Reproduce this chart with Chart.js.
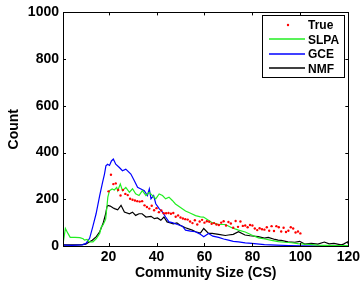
<!DOCTYPE html>
<html lang="en">
<head>
    <meta charset="UTF-8">
    <title>Community Size Distribution</title>
    <script src="https://cdn.jsdelivr.net/npm/chart.js"></script>
    <style>
        html, body { margin: 0; padding: 0; background: #fff; }
        #chart { display: block; }
    </style>
</head>
<body>
<canvas id="chart" width="363" height="282"></canvas>
<script>
    // series names and axis ticks
    const seriesNames = ['True', 'SLPA', 'GCE', 'NMF'];
    const xTicks = [20, 40, 60, 80, 100, 120];
    const yTicks = [0, 200, 400, 600, 800, 1000];

    // True (red dots)
    const trueX = [20, 21, 22, 23, 24, 25, 26, 27, 28, 29, 30, 31, 32, 33, 34, 35, 36, 37, 38, 39,
        40, 41, 42, 43, 44, 45, 46, 47, 48, 49, 50, 51, 52, 53, 54, 55, 56, 57, 58, 59,
        60, 61, 62, 63, 64, 65, 66, 67, 68, 69, 70, 71, 72, 73, 74, 75, 76, 77, 78, 79,
        80, 81, 82, 83, 84, 85, 86, 87, 88, 89, 90, 91, 92, 93, 94, 95, 96, 97, 98, 99, 100];
    const trueY = [234, 305, 265, 268, 240, 216, 240, 223, 218, 202, 198, 195, 192, 190, 192, 174, 167, 160, 172, 153,
        162, 145, 152, 140, 140, 141, 138, 141, 125, 131, 122, 118, 115, 113, 105, 98, 110, 92, 105, 112,
        100, 106, 104, 95, 98, 92, 90, 100, 106, 88, 103, 96, 78, 107, 82, 105, 86, 88, 80, 90,
        88, 75, 68, 76, 72, 70, 80, 65, 85, 64, 85, 80, 62, 78, 60, 65, 80, 75, 58, 62, 54];

    // SLPA (green)
    const slpaX = [1, 2, 3, 4, 6, 8, 9.4, 10, 11, 12, 13.5, 14.9, 16.3, 17, 17.7, 18.8, 19.3, 19.7, 20.4, 21.5,
        22.4, 23.4, 23.8, 24.9, 25.8, 27.2, 28.7, 30, 31.3, 32.7, 34.1, 35.6, 37, 38.3, 39.7, 41.1, 42.5, 43.8,
        45.2, 46.6, 47.9, 50, 52.1, 54.2, 56.3, 58.3, 59.6, 61, 63.2, 65.9, 68.7, 71.4, 74.2, 77, 79.7, 82.5,
        85.2, 88, 90.8, 93.5, 96.3, 99, 101.8, 104, 107, 110, 115, 120];
    const slpaY = [8, 75, 55, 37, 37, 36, 31, 25, 28, 18, 18, 32, 54, 82, 90, 115, 167, 209, 237, 244,
        240, 251, 237, 265, 237, 251, 230, 245, 223, 216, 237, 216, 230, 216, 202, 223, 216, 202,
        209, 195, 180, 165, 150, 140, 130, 125, 124, 115, 100, 92, 92, 78, 68, 60, 47, 35,
        30, 24, 19, 16, 14, 10, 8, 7, 4, 3, 2, 2];

    // GCE (blue)
    const gceX = [1, 5, 9, 10.6, 12.1, 13.4, 14.8, 16.3, 17.5, 18.3, 18.9, 19.6, 20.4, 21.2, 22, 23, 24.5, 25.8,
        27.2, 29.3, 30.7, 32.1, 33.5, 34.9, 36.2, 37, 37.7, 38.8, 39.7, 41.1, 42.5, 43.8, 45.2, 46.6, 48.7,
        50.8, 52.1, 54.2, 56.2, 58, 59.7, 61.7, 63.5, 65.9, 68, 70, 72, 74.2, 77, 79.7, 85, 90, 95, 100, 110, 120];
    const gceY = [4, 3, 5, 11, 33, 82, 138, 216, 272, 308, 343, 350, 345, 364, 372, 350, 336, 322,
        329, 308, 280, 251, 244, 237, 216, 244, 202, 216, 181, 160, 145, 124, 103, 100, 92,
        85, 68, 64, 61, 52, 40, 54, 42, 37, 30, 25, 20, 18, 13, 11, 6, 4, 2, 1, 0, 0];

    // NMF (black)
    const nmfX = [1, 5, 9, 10.5, 12.1, 13.2, 14.9, 16.3, 17.7, 18.8, 19.3, 19.7, 20.7, 21.8, 22.5, 23.8, 25.2,
        26.6, 28.7, 30, 31.3, 32.7, 34, 35.6, 37.7, 39.1, 40.4, 41.8, 43.1, 44.4, 45.8, 47, 48.5, 50, 52.1,
        54.9, 56.3, 58.3, 59.7, 61.7, 63.2, 65.9, 68.7, 70, 72, 74.2, 76.9, 79, 82.4, 85, 86.6, 89.4, 90.7,
        92, 94.8, 97.7, 99.7, 101.8, 104.5, 107.3, 110, 112, 114, 117, 118, 119.7, 120];
    const nmfY = [5, 5, 6, 8, 18, 25, 40, 61, 96, 138, 167, 174, 171, 164, 160, 155, 174,
        145, 138, 145, 131, 138, 138, 124, 127, 117, 120, 110, 124, 103, 99, 95, 99, 88, 78,
        68, 61, 55, 75, 54, 54, 50, 45, 47, 50, 61, 47, 44, 40, 34, 37, 28, 25,
        24, 18, 16, 20, 8, 11, 8, 17, 9, 11, 5, 8, 18, 8];

    const colors = ['#ff0000', '#22ee22', '#0000ff', '#000000'];
    const font = 'Arial, "Liberation Sans", sans-serif';

    function pts(xs, ys) {
        return xs.map((x, i) => ({ x: x, y: ys[i] }));
    }

    // Matlab style box, inward ticks and legend
    const frame = {
        id: 'frame',
        afterDraw(chart) {
            const ctx = chart.ctx;
            const a = chart.chartArea;
            const xs = chart.scales.x, ys = chart.scales.y;
            ctx.save();
            ctx.strokeStyle = '#000';
            ctx.lineWidth = 1;
            ctx.strokeRect(Math.round(a.left) + 0.5, Math.round(a.top) + 0.5,
                Math.round(a.right - a.left), Math.round(a.bottom - a.top));
            ctx.beginPath();
            xTicks.forEach(v => {
                const px = Math.round(xs.getPixelForValue(v)) + 0.5;
                ctx.moveTo(px, a.bottom); ctx.lineTo(px, a.bottom - 3);
                ctx.moveTo(px, a.top); ctx.lineTo(px, a.top + 3);
            });
            yTicks.forEach(v => {
                const py = Math.round(ys.getPixelForValue(v)) + 0.5;
                ctx.moveTo(a.left, py); ctx.lineTo(a.left + 3, py);
                ctx.moveTo(a.right, py); ctx.lineTo(a.right - 3, py);
            });
            ctx.stroke();

            // legend
            const bx = 262, by = 15, bw = 82, bh = 62;
            ctx.fillStyle = '#fff';
            ctx.fillRect(bx, by, bw, bh);
            ctx.strokeRect(bx + 0.5, by + 0.5, bw, bh);
            ctx.font = 'bold 12px ' + font;
            ctx.textBaseline = 'middle';
            ctx.textAlign = 'left';
            chart.data.datasets.forEach((ds, i) => {
                const y = by + 10 + i * 14.4;
                if (ds.showLine === false) {
                    ctx.fillStyle = ds.backgroundColor;
                    ctx.beginPath();
                    ctx.arc(288, y, 1.2, 0, Math.PI * 2);
                    ctx.fill();
                } else {
                    ctx.strokeStyle = ds.borderColor;
                    ctx.lineWidth = 1.3;
                    ctx.beginPath();
                    ctx.moveTo(269, Math.round(y));
                    ctx.lineTo(305, Math.round(y));
                    ctx.stroke();
                }
                ctx.fillStyle = '#000';
                ctx.fillText(ds.label, 308, y + 1);
            });
            ctx.restore();
        }
    };

    const tickFont = { family: font, size: 14, weight: 'bold' };

    new Chart(document.getElementById('chart').getContext('2d'), {
        type: 'line',
        data: {
            datasets: [
                {
                    label: seriesNames[0], data: pts(trueX, trueY), showLine: false,
                    pointRadius: 1.2, pointBorderWidth: 0, backgroundColor: colors[0], borderColor: colors[0]
                },
                { label: seriesNames[1], data: pts(slpaX, slpaY), borderColor: colors[1], borderWidth: 1.2, pointRadius: 0 },
                { label: seriesNames[2], data: pts(gceX, gceY), borderColor: colors[2], borderWidth: 1.2, pointRadius: 0 },
                { label: seriesNames[3], data: pts(nmfX, nmfY), borderColor: colors[3], borderWidth: 1.2, pointRadius: 0 }
            ]
        },
        options: {
            responsive: false,
            animation: false,
            devicePixelRatio: 1,
            layout: { padding: { top: 10, right: 12, left: 0, bottom: 0 } },
            plugins: { legend: { display: false }, tooltip: { enabled: false } },
            scales: {
                x: {
                    type: 'linear', min: 1, max: 120,
                    afterBuildTicks: s => { s.ticks = xTicks.map(v => ({ value: v })); },
                    afterFit: s => { s.height = 36; },
                    grid: { display: false, drawTicks: false, tickLength: 0 },
                    border: { display: false },
                    ticks: { color: '#000', padding: 3, maxRotation: 0, font: tickFont, callback: v => String(v) },
                    title: {
                        display: true, text: 'Community Size (CS)', color: '#000',
                        padding: { top: 0, bottom: 0 }, font: tickFont
                    }
                },
                y: {
                    min: 0, max: 1000,
                    afterBuildTicks: s => { s.ticks = yTicks.map(v => ({ value: v })); },
                    afterFit: s => { s.width = 63; },
                    grid: { display: false, drawTicks: false, tickLength: 0 },
                    border: { display: false },
                    ticks: { color: '#000', padding: 4, font: tickFont, callback: v => String(v) },
                    title: {
                        display: true, text: 'Count', color: '#000',
                        padding: { top: 6, bottom: 0 }, font: tickFont
                    }
                }
            }
        },
        plugins: [frame]
    });
</script>
</body>
</html>
